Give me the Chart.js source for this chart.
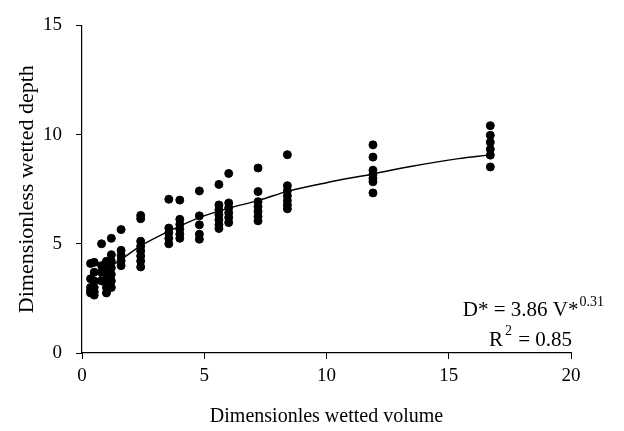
<!DOCTYPE html>
<html>
<head>
<meta charset="utf-8">
<script src="https://cdn.jsdelivr.net/npm/chart.js@4.4.1/dist/chart.umd.min.js"></script>
<style>
  html, body { margin: 0; padding: 0; background: #fff; }
</style>
</head>
<body>
<canvas id="myChart" width="624" height="431"></canvas>
<script>
// dimensionless wetted volume of each column of measurements
var columnV = [0.35, 0.5, 0.8, 1.0, 1.2, 1.6, 2.4, 3.55, 4.0, 4.8, 5.6, 6.0, 7.2, 8.4, 11.9, 16.7];
// dimensionless wetted depth measured in each column
var columnD = [
	[4.1, 3.4, 3.0, 2.85, 2.75],
	[4.15, 3.7, 3.3, 3.0, 2.8, 2.65],
	[5.0, 4.0, 3.7, 3.3],
	[4.2, 3.9, 3.6, 3.3, 3.0, 2.75],
	[5.25, 4.5, 4.2, 3.9, 3.6, 3.3, 3.0],
	[5.65, 4.7, 4.45, 4.22, 4.0],
	[6.3, 6.15, 5.12, 4.89, 4.67, 4.44, 4.21, 3.94],
	[7.04, 5.72, 5.5, 5.25, 5.0],
	[7.0, 6.12, 5.89, 5.67, 5.44, 5.25],
	[7.42, 6.28, 5.87, 5.44, 5.21],
	[7.72, 6.78, 6.55, 6.33, 6.1, 5.88, 5.7],
	[8.22, 6.87, 6.65, 6.42, 6.2, 5.97],
	[8.47, 7.39, 6.93, 6.7, 6.48, 6.25, 6.05],
	[9.08, 7.66, 7.43, 7.2, 6.98, 6.78, 6.6],
	[9.53, 8.97, 8.37, 8.17, 7.99, 7.84, 7.33],
	[10.41, 9.97, 9.65, 9.33, 9.06, 8.52]
];
// fitted curve
var fitV = [0.35, 0.53, 1.0, 1.63, 2.4, 3.6, 4.8, 5.9, 7.27, 8.4, 10, 11.9, 13.5, 15.4, 16.6];
var fitD = [2.8, 3.2, 3.8, 4.3, 4.9, 5.6, 6.2, 6.6, 7.0, 7.4, 7.8, 8.2, 8.55, 8.9, 9.06];

var xTicks = [0, 5, 10, 15, 20];
var yTicks = [0, 5, 10, 15];

var serif = '"Liberation Serif", "Times New Roman", serif';

var points = [];
for (var i = 0; i < columnV.length; i++) {
	for (var j = 0; j < columnD[i].length; j++) {
		points.push({x: columnV[i], y: columnD[i][j]});
	}
}
var fit = [];
for (var k = 0; k < fitV.length; k++) {
	fit.push({x: fitV[k], y: fitD[k]});
}

var eqPlugin = {
	id: 'equation',
	afterDraw: function (chart) {
		var ctx = chart.ctx, a = chart.chartArea;
		ctx.save();
		ctx.fillStyle = '#000';
		ctx.textBaseline = 'alphabetic';
		ctx.textAlign = 'left';
		// first line: D* = 3.86 V*^0.31
		ctx.font = '21px ' + serif;
		var main = 'D* = 3.86 V*';
		var w = ctx.measureText(main).width;
		ctx.font = '14px ' + serif;
		var sw = ctx.measureText('0.31').width;
		var x1 = a.right + 32 - w - sw;
		ctx.font = '21px ' + serif;
		ctx.fillText(main, x1, a.top + 291);
		ctx.font = '14px ' + serif;
		ctx.fillText('0.31', x1 + w + 1, a.top + 281);
		// second line: R^2 = 0.85
		var x2 = a.right - 82;
		ctx.font = '21px ' + serif;
		ctx.fillText('R', x2, a.top + 321);
		var rw = ctx.measureText('R').width;
		ctx.font = '14px ' + serif;
		ctx.fillText('2', x2 + rw + 2, a.top + 310);
		var tw = ctx.measureText('2').width;
		ctx.font = '21px ' + serif;
		ctx.fillText(' = 0.85', x2 + rw + tw + 3, a.top + 321);
		ctx.restore();
	}
};

var ctx = document.getElementById('myChart').getContext('2d');
var myChart = new Chart(ctx, {
	type: 'scatter',
	data: {
		datasets: [{
			label: 'Measured',
			data: points,
			backgroundColor: '#000',
			borderColor: '#000',
			pointRadius: 4,
			pointHoverRadius: 4
		}, {
			label: 'Fit',
			type: 'line',
			data: fit,
			showLine: true,
			borderColor: '#000',
			borderWidth: 1.5,
			pointRadius: 0,
			fill: false,
			cubicInterpolationMode: 'monotone'
		}]
	},
	options: {
		responsive: false,
		animation: false,
		devicePixelRatio: 1,
		layout: {padding: {top: 22, right: 53, left: 0, bottom: 0}},
		plugins: {legend: {display: false}, tooltip: {enabled: false}},
		scales: {
			x: {
				type: 'linear',
				min: 0, max: 20,
				afterBuildTicks: function (s) { s.ticks = xTicks.map(function (v) { return {value: v}; }); },
				afterFit: function (s) { s.height = 78; },
				ticks: {color: '#000', font: {family: serif, size: 19}, padding: 6},
				grid: {display: true, drawOnChartArea: false, drawTicks: true, tickLength: 6, color: '#000'},
				border: {display: true, color: '#000', width: 1.2},
				title: {display: true, text: 'Dimensionles wetted volume', color: '#000',
					font: {family: serif, size: 20}, padding: {top: 0, bottom: 2}}
			},
			y: {
				type: 'linear',
				min: 0, max: 15,
				afterBuildTicks: function (s) { s.ticks = yTicks.map(function (v) { return {value: v}; }); },
				afterFit: function (s) { s.width = 82; },
				ticks: {color: '#000', font: {family: serif, size: 19}, padding: 14},
				grid: {display: true, drawOnChartArea: false, drawTicks: true, tickLength: 6, color: '#000'},
				border: {display: true, color: '#000', width: 1.2},
				title: {display: true, text: 'Dimensionless wetted depth', color: '#000',
					font: {family: serif, size: 22}, padding: {top: 14, bottom: 0}}
			}
		}
	},
	plugins: [eqPlugin]
});
</script>
</body>
</html>
